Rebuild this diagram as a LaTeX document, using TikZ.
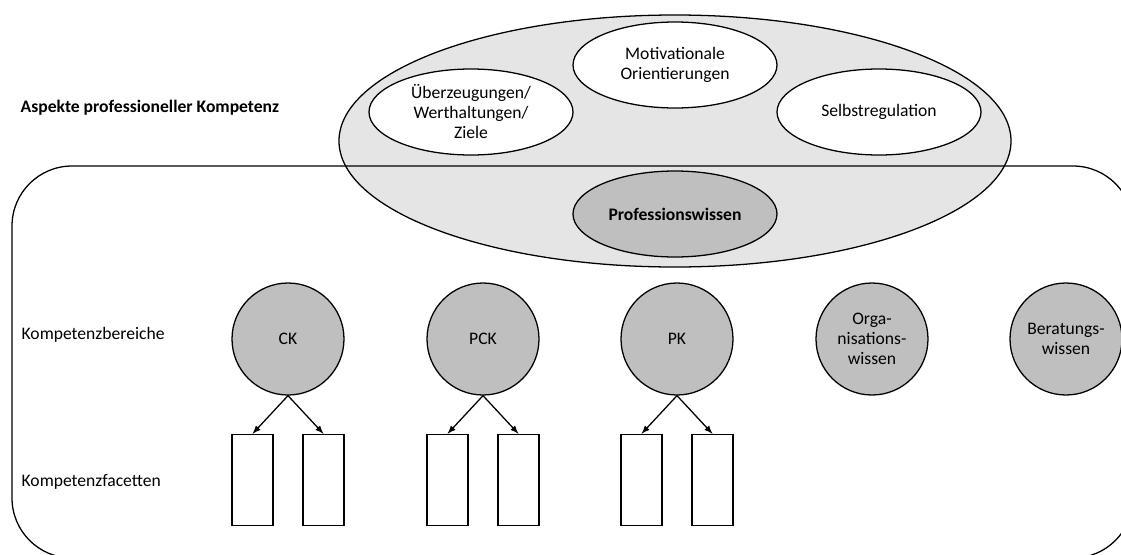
\documentclass[tikz,border=0pt]{standalone}
\usepackage{fontspec}
\setmainfont{Carlito}
\usetikzlibrary{shapes.geometric, arrows}

\begin{document}
\begin{tikzpicture}[x=0.625pt, y=-0.625pt, thick,
        every node/.style={font=\fontsize{11}{12.5}\selectfont, align=center},
        aspekt/.style={draw, ellipse, fill=white, minimum width=127.5pt, minimum height=53.75pt, inner sep=0pt},
        bereich/.style={draw, circle, fill=gray!50, minimum size=70pt, inner sep=0pt},
        facette/.style={draw, fill=white, minimum width=25.6pt, minimum height=56.9pt, inner sep=0pt},
        zeile/.style={anchor=west, inner sep=0pt}]
        \useasboundingbox (0,0) rectangle (1121,555);
        \clip (0,0) rectangle (1121,555);
        \node[draw, ellipse, fill=gray!20, minimum width=420pt, minimum height=157.5pt] (aspekte) at (675,141) {};
        \draw[rounded corners=37.5pt] (12,166) rectangle (1133,558);
        \node[aspekt] (ueberzeugungen) at (471,112) {Überzeugungen/\\Werthaltungen/\\Ziele};
        \node[aspekt] (motivation) at (675,65) {Motivationale\\Orientierungen};
        \node[aspekt] (selbstregulation) at (879,112) {Selbstregulation};
        \node[aspekt, fill=gray!50] (profwissen) at (675,214) {\textbf{Professionswissen}};
        \node[zeile] (aspektetitel) at (20,108) {\textbf{Aspekte professioneller Kompetenz}};
        \node[zeile] (bereichetitel) at (21,335) {Kompetenzbereiche};
        \node[zeile] (facettentitel) at (21,482) {Kompetenzfacetten};
        \node[bereich] (ck) at (288,339) {CK};
        \node[bereich] (pck) at (483,339) {PCK};
        \node[bereich] (pk) at (677,339) {PK};
        \node[bereich] (orga) at (872,339) {Orga-\\nisations-\\wissen};
        \node[bereich] (beratung) at (1066,339) {Beratungs-\\wissen};
        \node[facette] (ck1) at (252.5,480) {};
        \node[facette] (ck2) at (323.5,480) {};
        \node[facette] (pck1) at (447.5,480) {};
        \node[facette] (pck2) at (518.5,480) {};
        \node[facette] (pk1) at (641.5,480) {};
        \node[facette] (pk2) at (712.5,480) {};
        \draw[-latex] (ck.south) -- (ck1.north);
        \draw[-latex] (ck.south) -- (ck2.north);
        \draw[-latex] (pck.south) -- (pck1.north);
        \draw[-latex] (pck.south) -- (pck2.north);
        \draw[-latex] (pk.south) -- (pk1.north);
        \draw[-latex] (pk.south) -- (pk2.north);
    \end{tikzpicture}
\end{document}
